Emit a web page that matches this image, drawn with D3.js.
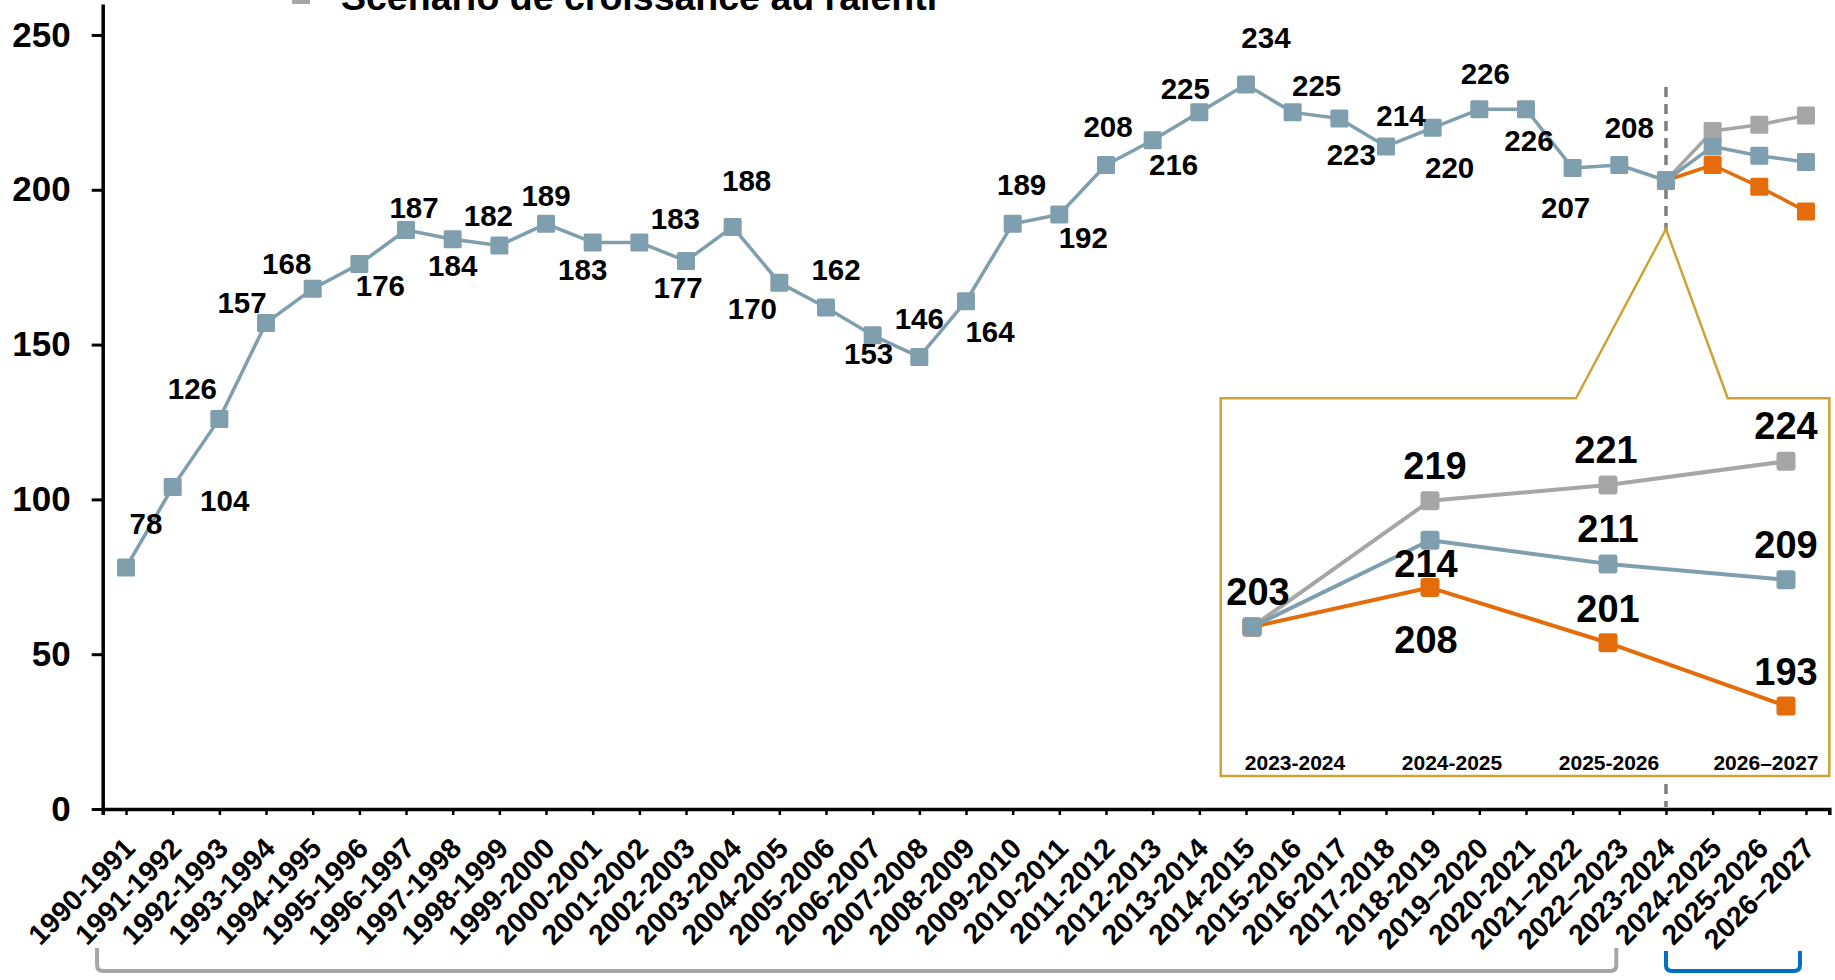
<!DOCTYPE html>
<html lang="fr">
<head>
<meta charset="utf-8">
<script src="https://cdn.jsdelivr.net/npm/d3@7"></script>
<style>
  html, body { margin: 0; padding: 0; background: #fff; }
  svg { display: block; font-family: "Liberation Sans", Arial, sans-serif; font-weight: bold; }
</style>
</head>
<body>
<div id="chart"></div>
<script>
const years = [
  "1990-1991", "1991-1992", "1992-1993", "1993-1994", "1994-1995", "1995-1996",
  "1996-1997", "1997-1998", "1998-1999", "1999-2000", "2000-2001", "2001-2002",
  "2002-2003", "2003-2004", "2004-2005", "2005-2006", "2006-2007", "2007-2008",
  "2008-2009", "2009-2010", "2010-2011", "2011-2012", "2012-2013", "2013-2014",
  "2014-2015", "2015-2016", "2016-2017", "2017-2018", "2018-2019", "2019–2020",
  "2020-2021", "2021–2022", "2022–2023", "2023-2024", "2024-2025", "2025-2026",
  "2026–2027"
];

const historyValues = [
  78, 104, 126, 157, 168, 176, 187, 184, 182, 189, 183, 183, 177, 188, 170, 162,
  153, 146, 164, 189, 192, 208, 216, 225, 234, 225, 223, 214, 220, 226, 226, 207,
  208, 203
];

const scenarioYears = ["2023-2024", "2024-2025", "2025-2026", "2026–2027"];
const slowGrowthValues = [203, 219, 221, 224];
const baseValues = [203, 214, 211, 209];
const lowValues = [203, 208, 201, 193];

const yTicks = [0, 50, 100, 150, 200, 250];
const legendLabel = "Scénario de croissance au ralenti";

// where each history value label sits relative to its marker [dx, dy]
const historyLabelOffsets = [
  [20, -44], [52, 13], [-27, -30], [-24, -20], [-26, -25], [21, 21], [8, -23],
  [0, 26], [-11, -30], [0, -28], [-10, 27], [36, -24], [-8, 27], [14, -46],
  [-27, 26], [10, -38], [-4, 18], [0, -38], [24, 30], [9, -39], [24, 23],
  [2, -39], [21, 24], [-14, -24], [20, -47], [24, -27], [12, 36], [15, -31],
  [17, 40], [6, -36], [3, 31], [-7, 39], [10, -38], null
];

const COLORS = {
  base: "#7f9fae",
  slow: "#a6a6a6",
  low: "#e46c0a",
  callout: "#cda434",
  dashed: "#7f7f7f",
  bracketGray: "#a6a6a6",
  bracketBlue: "#0070c0"
};

const width = 1835;
const height = 980;

const svg = d3.select("#chart")
  .append("svg")
  .attr("width", width)
  .attr("height", height)
  .attr("viewBox", [0, 0, width, height]);

const x = d3.scalePoint()
  .domain(years)
  .range([102.7, 1829.3])
  .padding(0.5);

const y = d3.scaleLinear()
  .domain([0, 260])
  .range([809, 4]);

// legend (only its last entry shows at the top edge)
svg.append("rect")
  .attr("x", 292)
  .attr("y", -14)
  .attr("width", 18)
  .attr("height", 18)
  .attr("fill", COLORS.slow);

svg.append("text")
  .attr("x", 341)
  .attr("y", 10)
  .attr("font-size", 37.5)
  .text(legendLabel);

// axes
const yAxis = svg.append("g")
  .attr("transform", `translate(${x.range()[0]},0)`)
  .call(d3.axisLeft(y).tickValues(yTicks).tickSize(11).tickSizeOuter(0).tickPadding(21));

yAxis.select(".domain").attr("stroke", "#000").attr("stroke-width", 3.5);
yAxis.selectAll(".tick line").attr("stroke", "#000").attr("stroke-width", 3);
yAxis.selectAll(".tick text")
  .attr("fill", "#000")
  .attr("font-size", 35)
  .attr("font-family", "'Liberation Sans', Arial, sans-serif")
  .attr("font-weight", "bold");

const xAxis = svg.append("g")
  .attr("transform", `translate(0,${y(0)})`)
  .call(d3.axisBottom(x).tickSize(6).tickSizeOuter(6));

xAxis.select(".domain").attr("stroke", "#000").attr("stroke-width", 3.5);
xAxis.selectAll(".tick line").attr("stroke", "#000").attr("stroke-width", 2.5);
xAxis.selectAll(".tick text")
  .attr("fill", "#000")
  .attr("font-size", 28.5)
  .attr("font-family", "'Liberation Sans', Arial, sans-serif")
  .attr("font-weight", "bold")
  .attr("text-anchor", "end")
  .attr("x", 0)
  .attr("y", 0)
  .attr("dy", "0.35em")
  .attr("transform", "translate(3,34) rotate(-45)");

// forecast divider
svg.append("line")
  .attr("x1", x("2023-2024"))
  .attr("x2", x("2023-2024"))
  .attr("y1", 87)
  .attr("y2", y(0) - 2)
  .attr("stroke", COLORS.dashed)
  .attr("stroke-width", 3.5)
  .attr("stroke-dasharray", "10,7");

function drawSeries(group, xs, ys, cats, values, color, size, lineWidth, rx) {
  const line = d3.line()
    .x(function (d, i) { return xs(cats[i]); })
    .y(function (d) { return ys(d); });

  group.append("path")
    .datum(values)
    .attr("fill", "none")
    .attr("stroke", color)
    .attr("stroke-width", lineWidth)
    .attr("stroke-linejoin", "round")
    .attr("d", line);

  group.selectAll(null)
    .data(values)
    .join("rect")
    .attr("x", function (d, i) { return xs(cats[i]) - size / 2; })
    .attr("y", function (d) { return ys(d) - size / 2; })
    .attr("width", size)
    .attr("height", size)
    .attr("rx", rx)
    .attr("fill", color);
}

// main chart: scenarios first, history on top
const main = svg.append("g");
drawSeries(main, x, y, scenarioYears, slowGrowthValues, COLORS.slow, 18, 3.5, 1.5);
drawSeries(main, x, y, scenarioYears, baseValues, COLORS.base, 18, 3.5, 1.5);
drawSeries(main, x, y, scenarioYears, lowValues, COLORS.low, 18, 3.5, 1.5);
drawSeries(main, x, y, years.slice(0, historyValues.length), historyValues, COLORS.base, 18, 3.5, 1.5);

main.selectAll(".hist-label")
  .data(historyValues)
  .join("text")
  .attr("class", "hist-label")
  .filter(function (d, i) { return historyLabelOffsets[i] !== null; })
  .attr("x", function (d, i) { return x(years[i]) + historyLabelOffsets[i][0]; })
  .attr("y", function (d, i) { return y(d) + historyLabelOffsets[i][1]; })
  .attr("text-anchor", "middle")
  .attr("dominant-baseline", "central")
  .attr("font-size", 29.5)
  .attr("fill", "#000")
  .text(function (d) { return d; });

// zoom callout
const box = { left: 1220.7, top: 398.3, right: 1829.3, bottom: 776 };
const apex = [x("2023-2024"), 229];

svg.append("path")
  .attr("d", [
    "M", box.left, box.top,
    "H", 1576,
    "L", apex[0], apex[1],
    "L", 1727.7, box.top,
    "H", box.right,
    "V", box.bottom,
    "H", box.left,
    "Z"
  ].join(" "))
  .attr("fill", "#fff")
  .attr("stroke", COLORS.callout)
  .attr("stroke-width", 2.5)
  .attr("stroke-linejoin", "miter");

const ix = d3.scalePoint()
  .domain(scenarioYears)
  .range([1252, 1786]);

const ixLabels = d3.scalePoint()
  .domain(scenarioYears)
  .range([1295, 1766]);

const iy = d3.scaleLinear()
  .domain([185, 230])
  .range([769, 414]);

const inset = svg.append("g");

inset.selectAll(".inset-cat")
  .data(scenarioYears)
  .join("text")
  .attr("class", "inset-cat")
  .attr("x", function (d) { return ixLabels(d); })
  .attr("y", 770)
  .attr("text-anchor", "middle")
  .attr("font-size", 21)
  .attr("fill", "#000")
  .text(function (d) { return d; });

drawSeries(inset, ix, iy, scenarioYears, slowGrowthValues, COLORS.slow, 19, 4, 3);
drawSeries(inset, ix, iy, scenarioYears, lowValues, COLORS.low, 19, 4, 3);
drawSeries(inset, ix, iy, scenarioYears, baseValues, COLORS.base, 19, 4, 3);

const insetLabelOffsets = {
  slow: [null, [5, -35], [-2, -35], [0, -35]],
  base: [[6, -35], [-4, 24], [0, -35], [0, -35]],
  low: [null, [-4, 52], [0, -34], [0, -34]]
};

[
  { values: slowGrowthValues, offsets: insetLabelOffsets.slow },
  { values: baseValues, offsets: insetLabelOffsets.base },
  { values: lowValues, offsets: insetLabelOffsets.low }
].forEach(function (s) {
  s.values.forEach(function (v, i) {
    const off = s.offsets[i];
    if (!off) return;
    inset.append("text")
      .attr("x", ix(scenarioYears[i]) + off[0])
      .attr("y", iy(v) + off[1])
      .attr("text-anchor", "middle")
      .attr("dominant-baseline", "central")
      .attr("font-size", 38)
      .attr("fill", "#000")
      .text(v);
  });
});

// period brackets under the axis
function bracket(x0, x1, top, bottom, color) {
  const r = 6;
  svg.append("path")
    .attr("d", `M${x0},${top} V${bottom - r} Q${x0},${bottom} ${x0 + r},${bottom} H${x1 - r} Q${x1},${bottom} ${x1},${bottom - r} V${top}`)
    .attr("fill", "none")
    .attr("stroke", color)
    .attr("stroke-width", 4);
}

bracket(x(years[0]) - 29, x("2022–2023") - 3, 948, 971, COLORS.bracketGray);
bracket(x("2023-2024"), x("2026–2027") - 6, 951, 971, COLORS.bracketBlue);
</script>
</body>
</html>
